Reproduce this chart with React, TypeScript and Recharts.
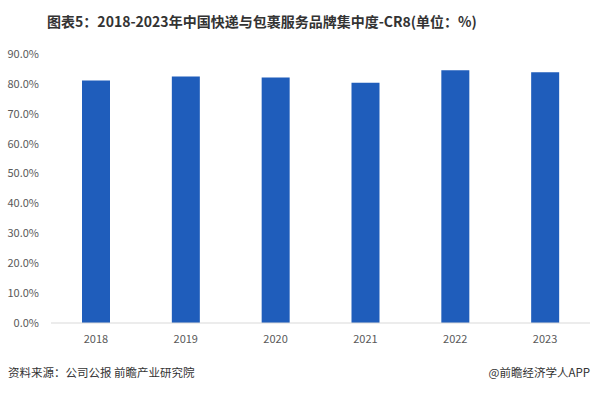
import React from 'react';
import { BarChart, Bar, XAxis, YAxis } from 'recharts';

const years = ['2018', '2019', '2020', '2021', '2022', '2023'];
const cr8 = [81.1, 82.5, 82.1, 80.4, 84.6, 83.9];
const yTicks = [0, 10, 20, 30, 40, 50, 60, 70, 80, 90];

const data = years.map((year, i) => ({ year, value: cr8[i] }));

const FONT = '"Noto Sans CJK SC", "Noto Sans", sans-serif';

export default function App() {
  return (
    <div
      style={{
        position: 'absolute',
        left: 0,
        top: 0,
        width: 597,
        height: 394,
        background: '#fff',
        fontFamily: FONT,
        overflow: 'hidden',
      }}
    >
      {/* Title */}
      <div
        style={{
          position: 'absolute',
          top: 10,
          left: 0,
          width: 524,
          textAlign: 'center',
          fontSize: 14,
          fontWeight: 'bold',
          color: '#333',
          lineHeight: '22px',
        }}
      >
        图表5：2018-2023年中国快递与包裹服务品牌集中度-CR8(单位：%)
      </div>

      <BarChart
        width={597}
        height={394}
        data={data}
        margin={{ top: 54, right: 7, bottom: 41, left: 0 }}
      >
        <XAxis
          dataKey="year"
          height={30}
          tickLine={false}
          axisLine={{ stroke: '#d9d9d9' }}
          tick={{ fill: '#595959', fontSize: 11, fontFamily: FONT }}
          tickMargin={6}
        />
        <YAxis
          width={51}
          domain={[0, 90]}
          ticks={yTicks}
          interval={0}
          axisLine={false}
          tickLine={false}
          tickSize={0}
          tickMargin={12}
          tickFormatter={(v: number) => `${v.toFixed(1)}%`}
          tick={{ fill: '#595959', fontSize: 11, fontFamily: FONT }}
        />
        <Bar dataKey="value" fill="#1f5dbb" barSize={28} isAnimationActive={false} />
      </BarChart>

      {/* Footer */}
      <div
        style={{
          position: 'absolute',
          top: 363,
          left: 8,
          fontSize: 11.5,
          color: '#333',
          lineHeight: '18px',
        }}
      >
        资料来源：公司公报 前瞻产业研究院
      </div>
      <div
        style={{
          position: 'absolute',
          top: 363,
          right: 7,
          fontSize: 11.5,
          color: '#333',
          lineHeight: '18px',
        }}
      >
        @前瞻经济学人APP
      </div>
    </div>
  );
}
